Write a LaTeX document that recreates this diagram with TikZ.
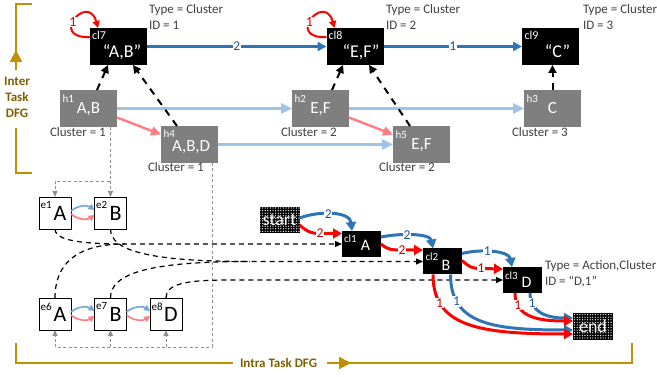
\documentclass[tikz,border=0pt]{standalone}
\usepackage{fontspec}
\setmainfont{Carlito}
\usetikzlibrary{arrows.meta,patterns}

\definecolor{goldline}{HTML}{BF9000}
\definecolor{goldtext}{HTML}{7F6000}
\definecolor{flowblue}{HTML}{2E75B6}
\definecolor{flowbluetxt}{HTML}{1F5596}
\definecolor{flowred}{HTML}{FF0000}
\definecolor{flowredtxt}{HTML}{C00000}
\definecolor{loopred}{HTML}{E00000}
\definecolor{paleblue}{HTML}{9DC3E6}
\definecolor{palered}{HTML}{FF7C80}
\definecolor{eblue}{HTML}{70A8DC}
\definecolor{hgray}{HTML}{7F7F7F}
\definecolor{notegray}{HTML}{404040}
\definecolor{linkgray}{HTML}{8F8F8F}

% white dots for the start / end markers
\pgfdeclarepatternformonly{finedots}{\pgfqpoint{-1.3pt}{-1.3pt}}{\pgfqpoint{1.3pt}{1.3pt}}{\pgfqpoint{2.6pt}{2.6pt}}%
  {\pgfpathcircle{\pgfqpoint{0pt}{0pt}}{0.65pt}\pgfusepath{fill}}

\newcommand{\fsz}[1]{\fontsize{#1}{#1}\selectfont}

% box with a small tag in its upper left corner and a main text
% #1 box style, #2 name, #3 centre, #4 tag style, #5 tag shift, #6 tag,
% #7 text style, #8 text shift, #9 text
\newcommand{\tagbox}[9]{%
  \node[#1] (#2) at (#3) {};
  \node[#4, anchor=north west] (#2-tag) at ([shift={(#5)}]#2.north west) {#6};
  \node[#7] (#2-txt) at ([shift={(#8)}]#2.center) {#9};
}

% self loop on a cluster box
\newcommand{\selfloop}[1]{%
  \draw[loopflow] ([shift={(0,-9.5)}]#1.west) .. controls +(-42,2) and +(-10,-36) ..
    ([shift={(-20.5,0)}]#1.north) node[looplab, pos=0.45] {1};
}

% the two small arcs between neighbouring action boxes
\newcommand{\epair}[2]{%
  \draw[eflowb] ([shift={(0,-2)}]#1.east) .. controls +(7,-6) and +(-7,-5) .. ([shift={(0,-3)}]#2.west);
  \draw[eflowr] ([shift={(0,1)}]#1.east) .. controls +(7,6) and +(-7,5) .. ([shift={(0,2)}]#2.west);
}

\tikzset{
  every node/.style={inner sep=0pt, outer sep=0pt},
  clbox/.style={fill=black, minimum width=57pt, minimum height=37pt},
  smallbox/.style={fill=black, minimum width=39pt, minimum height=26pt},
  hbox/.style={fill=hgray, minimum width=57pt, minimum height=37pt},
  ebox/.style={draw=black, line width=0.9pt, fill=white, minimum width=32pt, minimum height=32pt},
  dotbox/.style={preaction={fill=black}, pattern=finedots, pattern color=white,
    minimum width=40pt, minimum height=26pt, text=white, font=\fsz{18}},
  tagw/.style={text=white, font=\fsz{12}},
  tagh/.style={text=white, font=\fsz{11}},
  tagb/.style={text=black, font=\fsz{11}},
  namew/.style={text=white, font=\fsz{18}},
  nameh/.style={text=white, font=\fsz{17}},
  names/.style={text=white, font=\fsz{16}},
  nameb/.style={text=black, font=\fsz{22}},
  note/.style={text=notegray, font=\fsz{13}, anchor=base west},
  goldpath/.style={draw=goldline, line width=2pt},
  goldtip/.style={goldpath, -{Triangle[length=12pt,width=12pt]}},
  goldlabel/.style={text=goldtext, font=\fsz{13}\bfseries, anchor=base},
  clusterflow/.style={draw=flowblue, line width=2.4pt, -{Triangle[length=9pt,width=9pt]}},
  loopflow/.style={draw=flowred, line width=2pt, -{Triangle[length=7pt,width=7pt]}},
  paleb/.style={draw=paleblue, line width=2.6pt, -{Triangle[length=11pt,width=10pt]}},
  paler/.style={draw=palered, line width=2.4pt, -{Triangle[length=10pt,width=9pt]}},
  mapdash/.style={draw=black, line width=2pt, dash pattern=on 7pt off 6pt, -{Triangle[length=8pt,width=8pt]}},
  feedline/.style={draw=black, line width=1.2pt, dash pattern=on 5pt off 4pt},
  feeddash/.style={feedline, -{Triangle[length=7pt,width=6pt]}},
  linkdash/.style={draw=linkgray, line width=0.9pt, dash pattern=on 3pt off 2.5pt},
  linkarrow/.style={linkdash, -{Triangle[length=6pt,width=5pt]}},
  eflowb/.style={draw=eblue, line width=1.6pt, -{Triangle[length=6pt,width=6pt]}},
  eflowr/.style={draw=palered, line width=1.6pt, -{Triangle[length=6pt,width=6pt]}},
  bflow/.style={draw=flowblue, line width=3pt, -{Triangle[length=9pt,width=10pt]}},
  rflow/.style={draw=flowred, line width=3pt, -{Triangle[length=9pt,width=10pt]}},
  blab/.style={fill=white, text=flowbluetxt, font=\fsz{13.5}, inner sep=0.8pt},
  rlab/.style={fill=white, text=flowredtxt, font=\fsz{13.5}, inner sep=0.8pt},
  looplab/.style={fill=white, text=loopred, font=\fsz{14}, inner sep=0.5pt},
}

\begin{document}
\begin{tikzpicture}[x=1pt, y=-1pt]
\useasboundingbox (0,0) rectangle (657,377);
\fill[white] (0,0) rectangle (657,377);

% ---------- Inter task DFG bracket ----------
\draw[goldpath] (32,4) -- (16,4) -- (16,70);
\draw[goldtip] (16,70) -- (16,50);
\draw[goldpath] (16,128) -- (16,173) -- (32,173);
\node[goldlabel] (inter1) at (17,86) {Inter};
\node[goldlabel] (inter2) at (17,102) {Task};
\node[goldlabel] (inter3) at (17,118) {DFG};

% ---------- cluster nodes ----------
\tagbox{clbox}{cl7}{118.5,46.5}{tagw}{2,3}{cl7}{namew}{3.5,5.5}{“A,B”}
\tagbox{clbox}{cl8}{355,46.5}{tagw}{2,3.5}{cl8}{namew}{6,5.5}{“E,F”}
\tagbox{clbox}{cl9}{550.5,46.5}{tagw}{2.5,3.5}{cl9}{namew}{7,4.5}{“C”}

\node[note] (n7a) at (149,14) {Type = Cluster};
\node[note] (n7b) at (149,30) {ID = 1};
\node[note] (n8a) at (386,14) {Type = Cluster};
\node[note] (n8b) at (386,30) {ID = 2};
\node[note] (n9a) at (583,14) {Type = Cluster};
\node[note] (n9b) at (583,30) {ID = 3};

% ---------- history nodes ----------
\tagbox{hbox}{h1}{88.5,108.5}{tagh}{2.5,5}{h1}{nameh}{0,1}{A,B}
\tagbox{hbox}{h2}{320.5,108.5}{tagh}{2.5,5}{h2}{nameh}{0,1}{E,F}
\tagbox{hbox}{h3}{552.5,108.5}{tagh}{2.5,5}{h3}{nameh}{0,0}{C}
\tagbox{hbox}{h4}{189.5,144.5}{tagh}{2.5,3.5}{h4}{nameh}{1.5,2.5}{A,B,D}
\tagbox{hbox}{h5}{421.5,144.5}{tagh}{2.5,4.5}{h5}{nameh}{0,1}{E,F}

\node[note] (k1) at (50,137) {Cluster = 1};
\node[note] (k2) at (281,137) {Cluster = 2};
\node[note] (k3) at (512,137) {Cluster = 3};
\node[note] (k4) at (148,172) {Cluster = 1};
\node[note] (k5) at (379,172) {Cluster = 2};

% ---------- inter task links ----------
\draw[clusterflow] (cl7) -- node[blab] {2} (cl8);
\draw[clusterflow] (cl8) -- node[blab] {1} (cl9);
\selfloop{cl7}
\selfloop{cl8}

\draw[paleb] (h1) -- (h2);
\draw[paleb] (h2) -- (h3);
\draw[paleb] (h4) -- (h5);
\draw[paler] ([shift={(0,9)}]h1.east) -- ([shift={(0,-10)}]h4.west);
\draw[paler] ([shift={(0,9)}]h2.east) -- ([shift={(0,-10)}]h5.west);

\draw[mapdash] ([shift={(8.5,0)}]h1.north) -- ([shift={(-10.5,0)}]cl7.south);
\draw[mapdash] ([shift={(-12.5,0)}]h4.north) -- ([shift={(14.5,0)}]cl7.south);
\draw[mapdash] ([shift={(11.5,0)}]h2.north) -- ([shift={(-12,0)}]cl8.south);
\draw[mapdash] ([shift={(-11.5,0)}]h5.north) -- ([shift={(14,0)}]cl8.south);
\draw[mapdash] (h3.north) -- (h3.north |- cl9.south);

% ---------- action (event) nodes ----------
\tagbox{ebox}{e1}{55,213}{tagb}{1.7,4.7}{e1}{nameb}{5,0.5}{A}
\tagbox{ebox}{e2}{110.5,213}{tagb}{1.7,4.7}{e2}{nameb}{5,0.5}{B}
\tagbox{ebox}{e6}{55,314}{tagb}{1.7,4.7}{e6}{nameb}{5,0.5}{A}
\tagbox{ebox}{e7}{110.5,314}{tagb}{1.7,4.7}{e7}{nameb}{5,0.5}{B}
\tagbox{ebox}{e8}{166,314}{tagb}{1.7,4.7}{e8}{nameb}{5,0.5}{D}

\epair{e1}{e2}
\epair{e6}{e7}
\epair{e7}{e8}

% grey links from history nodes down to the action nodes
\coordinate (j0) at (55,181);
\coordinate (j1) at (110.5,181);
\coordinate (j2) at (212,347);
\draw[linkdash] (h1.south -| j1) -- (j1) -- (j0);
\draw[linkarrow] (j0) -- (e1.north);
\draw[linkarrow] (j1) -- (e2.north);
\draw[linkdash] (h4.south -| j2) -- (j2) -- (e6.south |- j2);
\draw[linkarrow] (e6.south |- j2) -- (e6.south);
\draw[linkarrow] (e7.south |- j2) -- (e7.south);
\draw[linkarrow] (e8.south |- j2) -- (e8.south);

% ---------- intra task DFG ----------
\node[dotbox] (start) at (279.5,220) {start};
\node[dotbox] (end) at (593,326.5) {end};
\tagbox{smallbox}{cl1}{361.5,244}{tagh}{2,4}{cl1}{names}{4,1.5}{A}
\tagbox{smallbox}{cl2}{442.5,261.5}{tagh}{2.5,4.3}{cl2}{names}{3.5,4.2}{B}
\tagbox{smallbox}{cl3}{522.5,280}{tagh}{2,4.7}{cl3}{names}{4,2.5}{D}
\node[note] (n3a) at (545,270) {Type = Action,Cluster};
\node[note] (n3b) at (545,286) {ID = “D,1”};

% action nodes feeding the cluster nodes
\coordinate (mA) at (125,244);
\coordinate (mB) at (250,261.5);
\coordinate (mD) at (230,280);
\draw[feeddash] (e1.south) .. controls +(0,9) and +(-55,0) .. (mA) -- (cl1.west);
\draw[feedline] (e6.north) .. controls +(0,-33) and +(-50,0) .. (mA);
\draw[feeddash] (e2.south) .. controls +(0,22) and +(-100,0) .. (mB) -- (cl2.west);
\draw[feedline] (e7.north) .. controls +(0,-25) and +(-100,0) .. (mB);
\draw[feeddash] (e8.north) .. controls +(0,-14) and +(-45,0) .. (mD) -- (cl3.west);

% flows between cluster nodes
\draw[bflow] ([shift={(0,-2)}]start.east) .. controls +(22,-8) and +(-2,-19) ..
  ([shift={(-9.5,0)}]cl1.north) node[blab, pos=0.42] {2};
\draw[rflow] ([shift={(0,5)}]start.east) .. controls +(7,6) and +(-10,0) .. (320,233.5)
  node[rlab] {2} -- ([shift={(0,-10.5)}]cl1.west);

\draw[bflow] ([shift={(0,-7)}]cl1.east) .. controls +(20,-4) and +(-3,-15) ..
  ([shift={(-9.5,0)}]cl2.north) node[blab, pos=0.4] {2};
\draw[rflow] (cl1.east) .. controls +(7,6) and +(-10,0) .. (402,250)
  node[rlab] {2} -- ([shift={(0,-11.5)}]cl2.west);

\draw[bflow] ([shift={(0,-8)}]cl2.east) .. controls +(20,-5) and +(-3,-16) ..
  ([shift={(-10.5,0)}]cl3.north) node[blab, pos=0.4] {1};
\draw[rflow] ([shift={(0,-1)}]cl2.east) .. controls +(7,6) and +(-10,0) .. (481,268.5)
  node[rlab] {1} -- ([shift={(0,-11)}]cl3.west);

\draw[bflow] ([shift={(8,0)}]cl2.south) .. controls +(0,50) and +(-80,0) ..
  ([shift={(0,3.5)}]end.west) node[blab, pos=0.22] {1};
\draw[bflow] ([shift={(7.5,0)}]cl3.south) .. controls +(0,20) and +(-25,0) ..
  ([shift={(0,-8.5)}]end.west) node[blab, pos=0.2] {1};
\draw[rflow] ([shift={(-9.5,0)}]cl2.south) .. controls +(0,52) and +(-95,0) ..
  ([shift={(0,7.5)}]end.west) node[rlab, pos=0.22] {1};
\draw[rflow] ([shift={(-7.5,0)}]cl3.south) .. controls +(0,24) and +(-35,0) ..
  ([shift={(0,-5.5)}]end.west) node[rlab, pos=0.2] {1};

% ---------- Intra task DFG bracket ----------
\node[goldlabel, anchor=base west] (intra) at (240,367) {Intra Task DFG};
\draw[goldpath] (16,343) -- (16,363) -- (233,363);
\draw[goldpath] (340,363) -- (632,363) -- (632,343);
\draw[goldtip] (327,363) -- (351,363);
\end{tikzpicture}
\end{document}
